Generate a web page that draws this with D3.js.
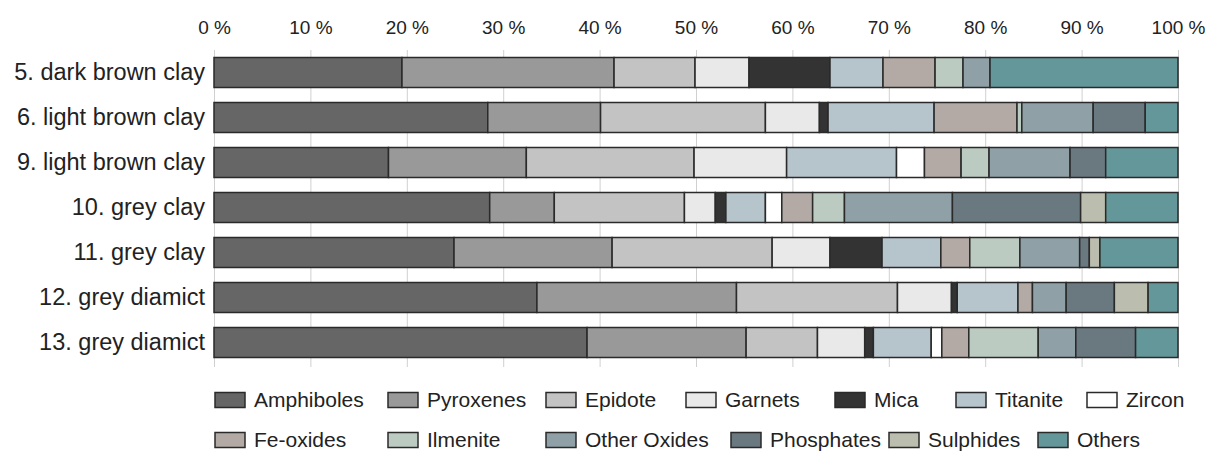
<!DOCTYPE html>
<html>
<head>
<meta charset="utf-8">
<script src="https://cdn.jsdelivr.net/npm/d3@7"></script>
<style>
	body { margin: 0; background: #fff; }
	svg { font-family: "Liberation Sans", Arial, sans-serif; }
	.grid line { stroke: #d0d0d0; stroke-width: 1; }
	.x.axis text { font-size: 19px; fill: #222; }
	.y.axis text { font-size: 23.5px; fill: #222; }
	.legend text { font-size: 21px; fill: #222; }
</style>
</head>
<body>
<div id="chart"></div>
<script>
// Samples (rows, top to bottom)
var samples = ["5. dark brown clay", "6. light brown clay", "9. light brown clay",
	"10. grey clay", "11. grey clay", "12. grey diamict", "13. grey diamict"];

// Mineral groups, stacking order
var minerals = ["Amphiboles", "Pyroxenes", "Epidote", "Garnets", "Mica", "Titanite", "Zircon",
	"Fe-oxides", "Ilmenite", "Other Oxides", "Phosphates", "Sulphides", "Others"];

// Percentages per sample
var amphiboles  = [19.5, 28.4, 18.1, 28.6, 24.9, 33.5, 38.7];
var pyroxenes   = [22.0, 11.7, 14.3,  6.7, 16.4, 20.7, 16.5];
var epidote     = [ 8.4, 17.1, 17.4, 13.5, 16.6, 16.7,  7.4];
var garnets     = [ 5.6,  5.6,  9.6,  3.2,  6.0,  5.6,  4.9];
var mica        = [ 8.4,  0.9,  0.0,  1.1,  5.4,  0.6,  0.9];
var titanite    = [ 5.5, 11.0, 11.4,  4.1,  6.1,  6.3,  6.0];
var zircon      = [ 0.0,  0.0,  2.9,  1.7,  0.0,  0.0,  1.1];
var feOxides    = [ 5.4,  8.6,  3.8,  3.2,  3.0,  1.5,  2.8];
var ilmenite    = [ 2.9,  0.5,  2.9,  3.3,  5.2,  0.0,  7.2];
var otherOxides = [ 2.8,  7.4,  8.4, 11.2,  6.2,  3.5,  3.9];
var phosphates  = [ 0.0,  5.4,  3.7, 13.3,  1.0,  5.0,  6.2];
var sulphides   = [ 0.0,  0.0,  0.0,  2.6,  1.1,  3.5,  0.0];
var others      = [19.5,  3.4,  7.5,  7.5,  8.1,  3.1,  4.4];

// Axis ticks
var xTicks = [0, 10, 20, 30, 40, 50, 60, 70, 80, 90, 100];

// Fill colours, same order as minerals
var colors = ["#666666", "#999999", "#c3c3c3", "#e9e9e9", "#333333", "#b6c4cc", "#ffffff",
	"#b3aaa6", "#bccbc2", "#8fa0a7", "#6a7880", "#bbbdae", "#64979a"];

// Legend layout (two rows, like the original)
var legendRows = [[0, 1, 2, 3, 4, 5, 6], [7, 8, 9, 10, 11, 12]];
var legendX = [[214, 387, 545, 685, 834, 955, 1086], [214, 387, 545, 730, 888, 1037]];

var series = [amphiboles, pyroxenes, epidote, garnets, mica, titanite, zircon,
	feOxides, ilmenite, otherOxides, phosphates, sulphides, others];

// Build the table d3.stack wants
var table = samples.map(function(s, i) {
	var row = { sample: s };
	minerals.forEach(function(m, j) { row[m] = series[j][i]; });
	return row;
});

var width = 1212, height = 454;

var x = d3.scaleLinear().domain([0, 100]).range([214, 1178]);
var y = d3.scaleBand().domain(samples).range([50, 365]).paddingInner(1 / 3).paddingOuter(1 / 6);
var color = d3.scaleOrdinal().domain(minerals).range(colors);

var stack = d3.stack().keys(minerals);
var layers = stack(table);

var svg = d3.select("#chart")
	.append("svg")
	.attr("width", width)
	.attr("height", height);

// Gridlines + top labels
var xAxis = d3.axisTop(x)
	.tickValues(xTicks)
	.tickSize(-317)
	.tickPadding(16)
	.tickFormat(function(d) { return d + " %"; });

var gx = svg.append("g")
	.attr("class", "x axis grid")
	.attr("transform", "translate(0,50)")
	.call(xAxis);
gx.select(".domain").remove();

// Stacked bars
svg.append("g")
	.selectAll("g")
	.data(layers)
	.enter().append("g")
	.attr("fill", function(d) { return color(d.key); })
	.selectAll("rect")
	.data(function(d) { return d.filter(function(p) { return p[1] - p[0] > 0; }); })
	.enter().append("rect")
	.attr("x", function(d) { return x(d[0]); })
	.attr("y", function(d) { return y(d.data.sample); })
	.attr("width", function(d) { return x(d[1]) - x(d[0]); })
	.attr("height", y.bandwidth())
	.attr("stroke", "#2a2a2a")
	.attr("stroke-width", 1.5);

// Row labels
var gy = svg.append("g")
	.attr("class", "y axis")
	.attr("transform", "translate(214,0)")
	.call(d3.axisLeft(y).tickSize(0).tickPadding(9));
gy.select(".domain").remove();

// Legend
var legend = svg.append("g").attr("class", "legend");
legendRows.forEach(function(row, r) {
	var cy = 400 + r * 40;
	row.forEach(function(k, c) {
		var item = legend.append("g")
			.attr("transform", "translate(" + legendX[r][c] + "," + cy + ")");
		item.append("rect")
			.attr("x", 1)
			.attr("y", -7.5)
			.attr("width", 30)
			.attr("height", 15)
			.attr("fill", colors[k])
			.attr("stroke", "#2a2a2a")
			.attr("stroke-width", 1.5);
		item.append("text")
			.attr("x", 40)
			.attr("dy", "0.35em")
			.text(minerals[k]);
	});
});
</script>
</body>
</html>
